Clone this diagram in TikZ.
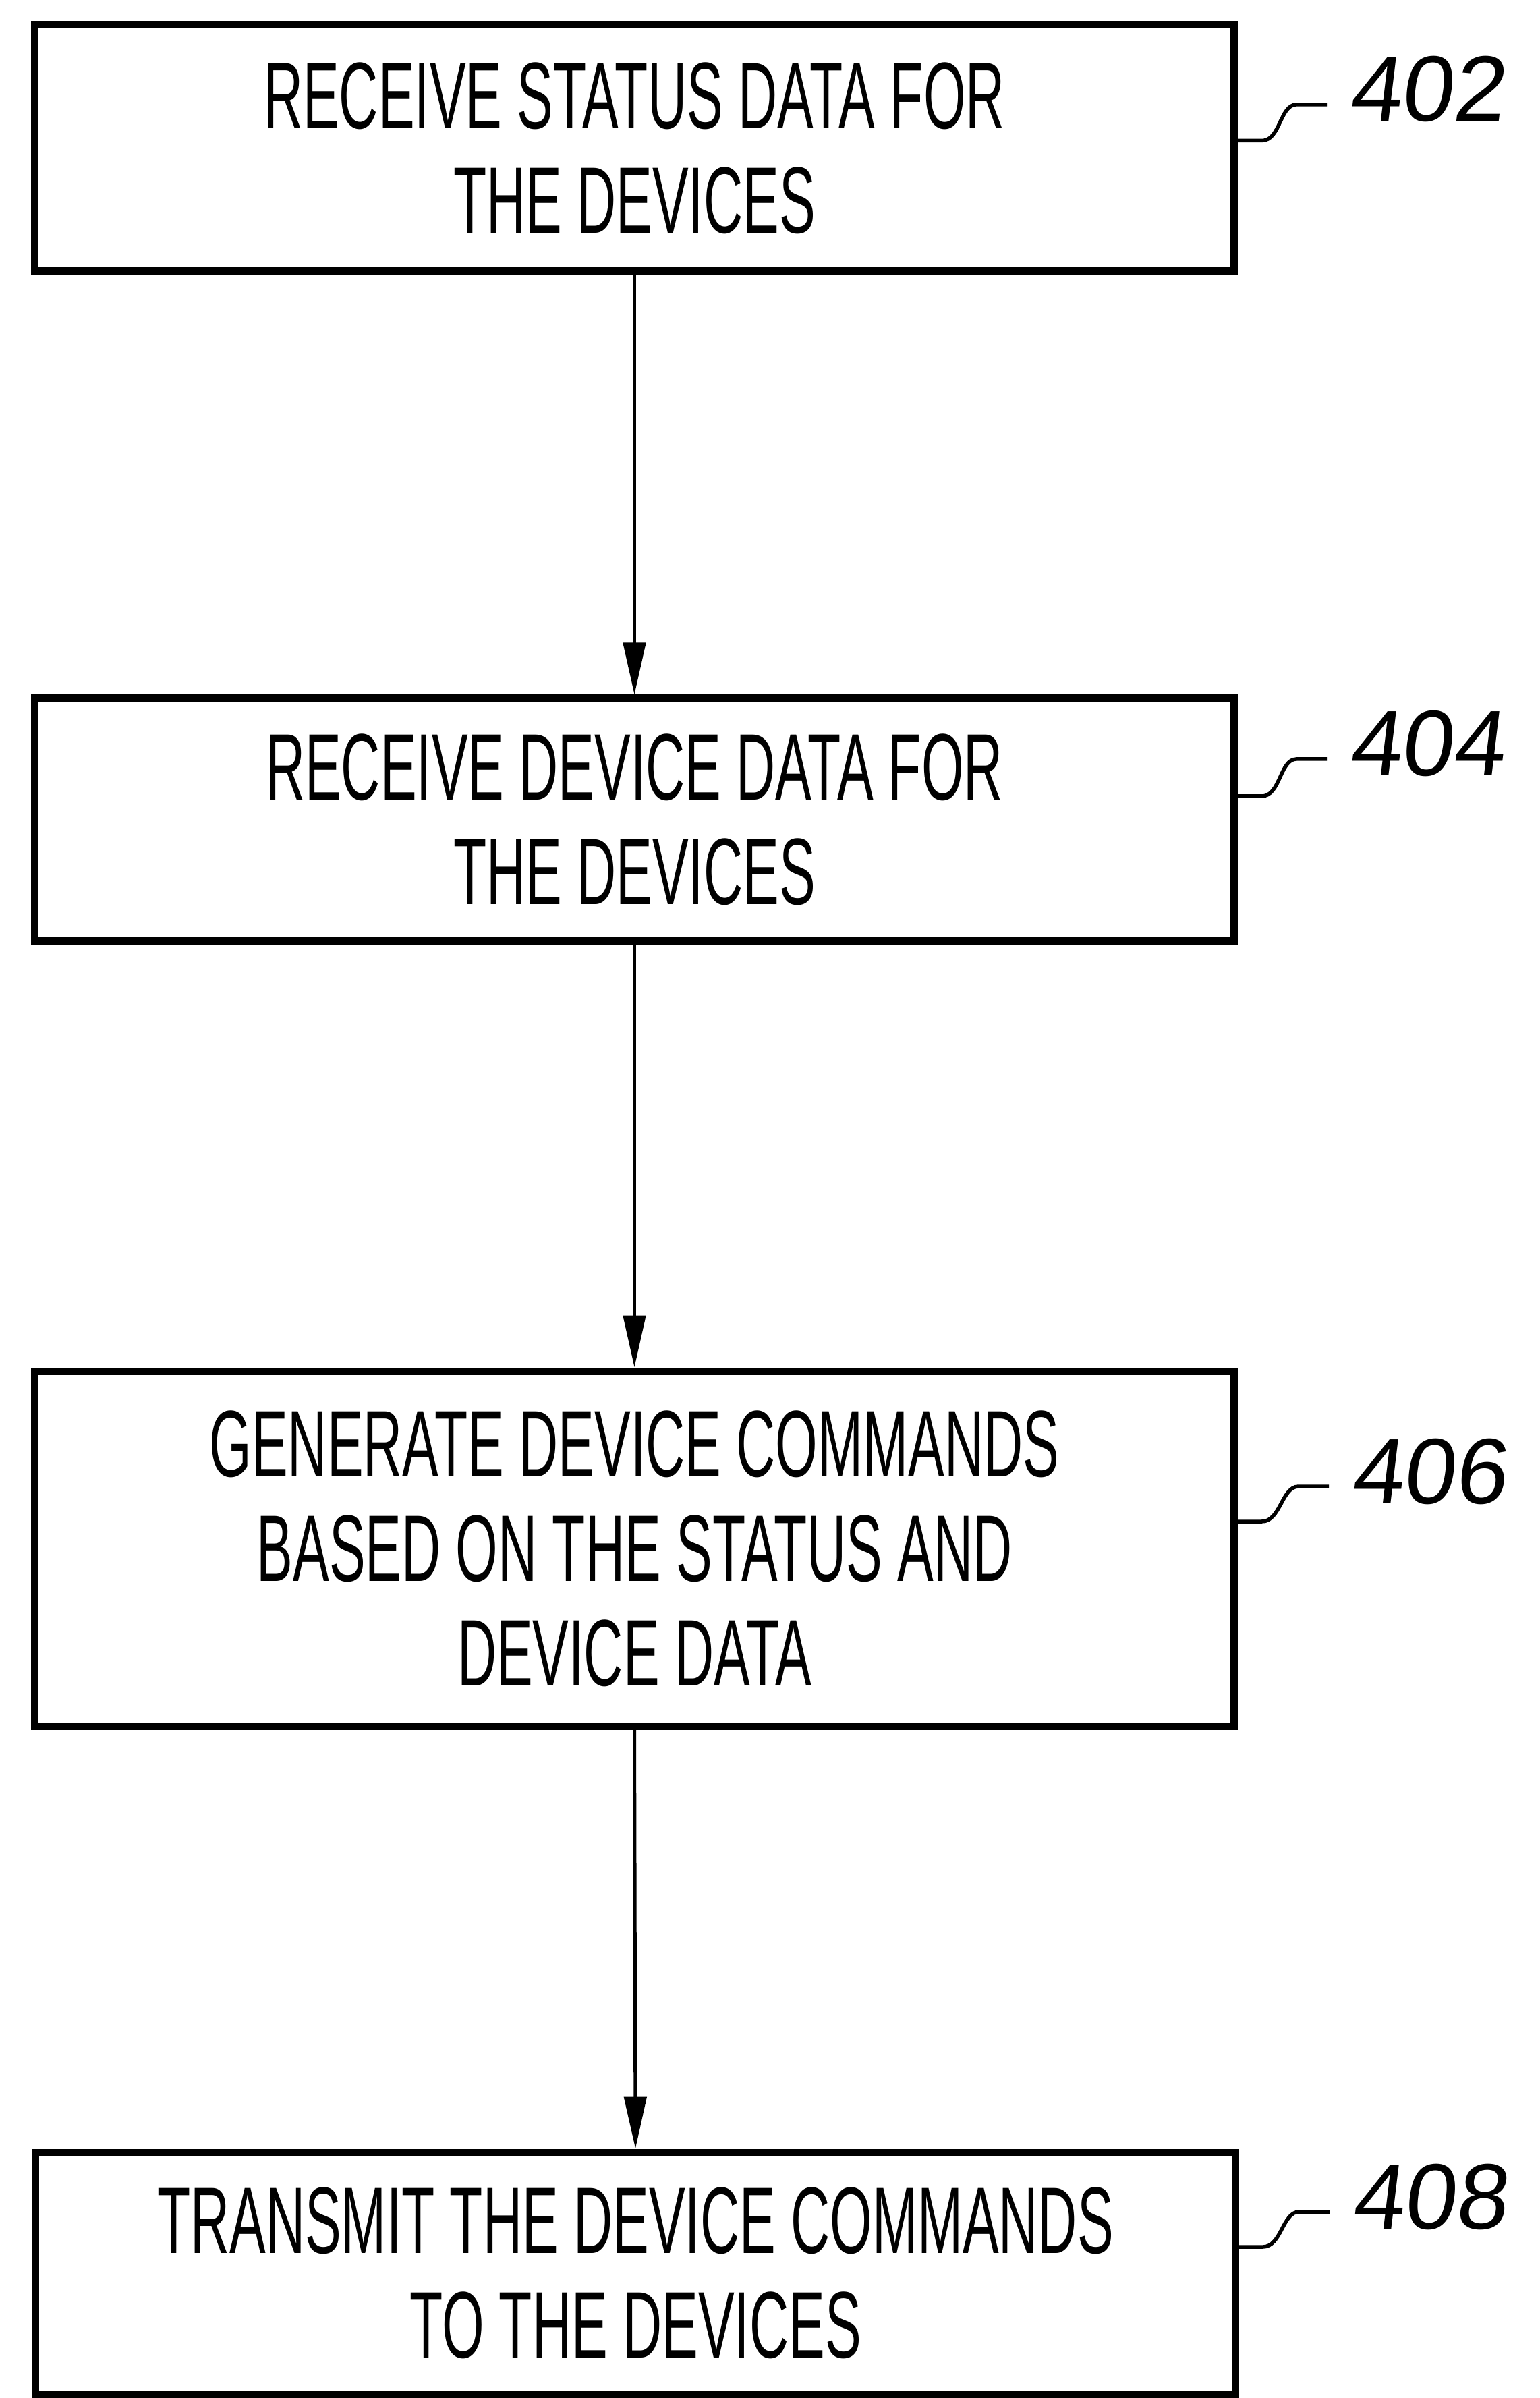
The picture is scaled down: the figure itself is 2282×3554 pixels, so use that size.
\documentclass[tikz,border=0pt]{standalone}
\usepackage{fontspec}
\setmainfont[FakeStretch=0.575]{Liberation Sans}
\newfontfamily\numfont[FakeSlant=0.12]{Liberation Sans}
\usetikzlibrary{arrows.meta,calc}
\begin{document}
\begin{tikzpicture}[x=0.1pt,y=-0.1pt,
  stepbox/.style={draw,line width=1.1pt,minimum width=177.9pt,align=center,inner sep=0pt,
    font={\fontsize{14pt}{15.5pt}\selectfont}},
  flow/.style={line width=0.5pt,-{Triangle[length=7.7pt,width=3.3pt]}},
  lead/.style={line width=0.55pt},
  reflabel/.style={anchor=base west,inner sep=0pt,font={\numfont\fontsize{13.8pt}{14pt}\selectfont}}]
\useasboundingbox (0,0) rectangle (2282,3554);
\node[stepbox,minimum height=36.5pt] (b1) at (940.5,219.5) {RECEIVE STATUS DATA FOR\\THE DEVICES};
\node[stepbox,minimum height=36pt] (b2) at (940.5,1215) {RECEIVE DEVICE DATA FOR\\THE DEVICES};
\node[stepbox,minimum height=52.6pt] (b3) at (940.5,2295) {GENERATE DEVICE COMMANDS\\BASED ON THE STATUS AND\\DEVICE DATA};
\node[stepbox,minimum height=35.8pt] (b4) at (942,3369) {TRANSMIT THE DEVICE COMMANDS\\TO THE DEVICES};
\draw[flow] (b1.south) -- (b2.north);
\draw[flow] (b2.south) -- (b3.north);
\draw[flow] (b3.south) -- (b4.north);
\node[reflabel] (l1) at (1997,180) {402};
\node[reflabel] (l2) at (1997,1150) {404};
\node[reflabel] (l3) at (2000,2228) {406};
\node[reflabel] (l4) at (2001,3303) {408};
\draw[lead] ($(b1.east)+(0,-11)$) -- ++(35,0) .. controls +(28,0) and +(-25,0) .. ($(l1.base west)+(-75,-25)$) -- ($(l1.base west)+(-30,-25)$);
\draw[lead] ($(b2.east)+(0,-35)$) -- ++(35,0) .. controls +(28,0) and +(-25,0) .. ($(l2.base west)+(-75,-25)$) -- ($(l2.base west)+(-30,-25)$);
\draw[lead] ($(b3.east)+(0,-40)$) -- ++(35,0) .. controls +(28,0) and +(-25,0) .. ($(l3.base west)+(-75,-25)$) -- ($(l3.base west)+(-30,-25)$);
\draw[lead] ($(b4.east)+(0,-39)$) -- ++(35,0) .. controls +(28,0) and +(-25,0) .. ($(l4.base west)+(-75,-25)$) -- ($(l4.base west)+(-30,-25)$);
\end{tikzpicture}
\end{document}
